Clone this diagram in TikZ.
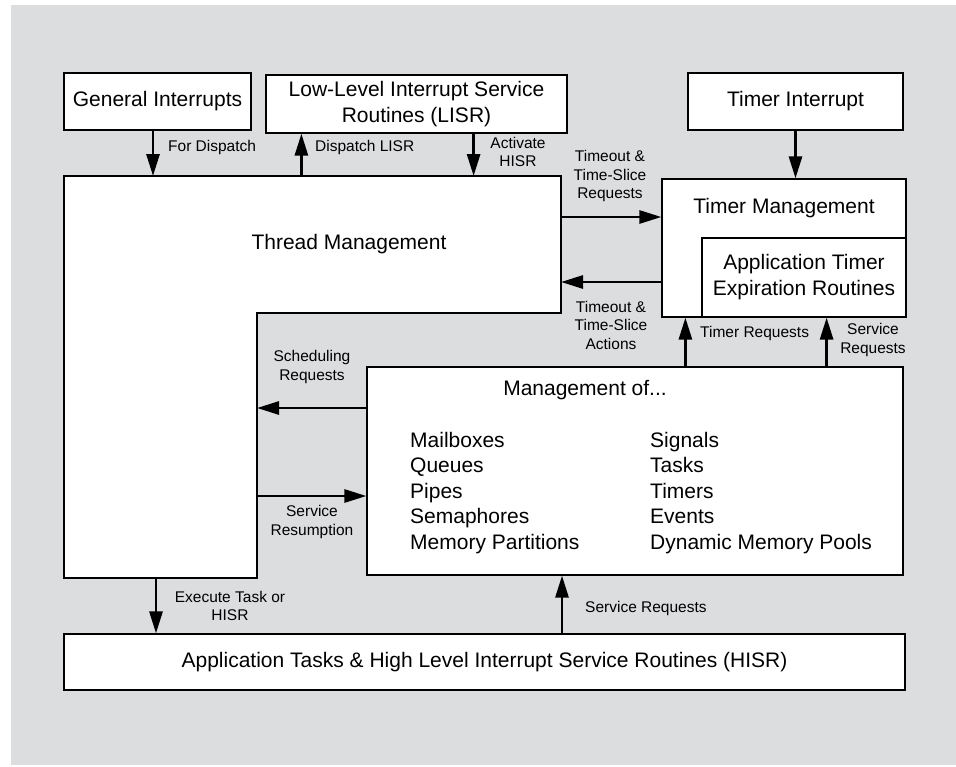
\documentclass[tikz,border=0pt]{standalone}
\usepackage{fontspec}
\setmainfont{Liberation Sans}
\usetikzlibrary{arrows.meta}

\definecolor{bggray}{RGB}{220,221,223}
\newcommand{\boxtxt}{\fontsize{21}{26}\selectfont}
\newcommand{\lbltxt}{\fontsize{15.5}{18.5}\selectfont}

\begin{document}
\begin{tikzpicture}[x=1pt, y=-1pt, >={Triangle[length=22pt,width=13pt]}]
    \tikzset{box/.style={draw, line width=1.2pt, fill=white, font=\boxtxt, align=center, inner sep=0pt},
             lbl/.style={font=\lbltxt, align=center, inner sep=0pt},
             flow/.style={->, line width=2.8pt}}

    \useasboundingbox (0,0) rectangle (956,766);
    \fill[bggray] (11,5) rectangle (956,765);

    % top row
    \node[box, minimum width=187pt, minimum height=57pt] (gi) at (157.5,101.5) {General Interrupts};
    \node[box, minimum width=301pt, minimum height=58pt] (lisr) at (416.5,104) {Low-Level Interrupt Service\\Routines (LISR)};
    \node[box, minimum width=215pt, minimum height=57pt] (ti) at (795.5,101.5) {Timer Interrupt};

    % thread management (L-shaped)
    \coordinate (thr-nw) at (64,176);
    \coordinate (thr-ne) at (561,176);
    \coordinate (thr-in) at (257,313);
    \coordinate (thr-sw) at (64,578);
    \draw[line width=1.2pt, fill=white] (thr-nw) -- (thr-ne) -- (thr-ne |- thr-in) -- (thr-in)
        -- (thr-in |- thr-sw) -- (thr-sw) -- cycle;
    \node[font=\boxtxt] (thr) at (349,244) {Thread Management};

    % timer management
    \node[box, minimum width=244pt, minimum height=138pt] (tm) at (784,248) {};
    \node[font=\boxtxt] (tmtext) at (784,208) {Timer Management};
    \node[box, minimum width=204pt, minimum height=79pt] (ate) at (804,277.5) {Application Timer\\Expiration Routines};

    % management of...
    \node[box, minimum width=536pt, minimum height=208pt] (mo) at (635,471) {};
    \node[font=\boxtxt] (motext) at (585,390) {Management of...};
    \foreach \obj [count=\i] in {Mailboxes, Queues, Pipes, Semaphores, Memory Partitions}
        \node[font=\boxtxt, anchor=base west, inner sep=0pt] (ml\i) at (410,{421.5+25.5*\i}) {\obj};
    \foreach \obj [count=\i] in {Signals, Tasks, Timers, Events, Dynamic Memory Pools}
        \node[font=\boxtxt, anchor=base west, inner sep=0pt] (mr\i) at (650,{421.5+25.5*\i}) {\obj};

    % application tasks
    \node[box, minimum width=841pt, minimum height=56pt] (app) at (484.5,662) {Application Tasks \& High Level Interrupt Service Routines (HISR)};

    % arrow positions
    \coordinate (fd) at ([xshift=-4.5pt]gi.south);
    \coordinate (dl) at ([xshift=36pt]lisr.south west);
    \coordinate (ah) at ([xshift=-94pt]lisr.south east);
    \coordinate (tsr) at ([yshift=31pt]tm.west);
    \coordinate (tsa) at ([yshift=-34pt]tm.west);
    \coordinate (treq) at ([xshift=24pt]tm.south west);
    \coordinate (sreq) at ([xshift=-80pt]tm.south east);
    \coordinate (sched) at ([yshift=63pt]mo.west);
    \coordinate (resum) at ([yshift=-25pt]mo.west);
    \coordinate (exec) at ([xshift=92pt]thr-sw);
    \coordinate (appreq) at ([xshift=77.5pt]app.north);

    \draw[flow] (fd) -- (fd |- thr-nw);
    \draw[flow] (dl |- thr-nw) -- (dl);
    \draw[flow] (ah) -- (ah |- thr-nw);
    \draw[flow] (ti.south) -- (ti.south |- tm.north);
    \draw[flow] (thr-ne |- tsr) -- (tsr);
    \draw[flow] (tsa) -- (thr-ne |- tsa);
    \draw[flow] (treq |- mo.north) -- (treq);
    \draw[flow] (sreq |- mo.north) -- (sreq);
    \draw[flow] (sched) -- (thr-in |- sched);
    \draw[flow] (thr-in |- resum) -- (resum);
    \draw[flow] (exec) -- (exec |- app.north);
    \draw[flow] (appreq) -- (appreq |- mo.south);

    % labels
    \node[lbl, anchor=west] (l-fd) at (168,147) {For Dispatch};
    \node[lbl, anchor=west] (l-dl) at (315,147) {Dispatch LISR};
    \node[lbl] (l-ah) at (518,152) {Activate\\HISR};
    \node[lbl] (l-tsr) at (610,176) {Timeout \&\\Time-Slice\\Requests};
    \node[lbl] (l-tsa) at (611,325) {Timeout \&\\Time-Slice\\Actions};
    \node[lbl, anchor=west] (l-treq) at (700,333) {Timer Requests};
    \node[lbl] (l-sreq) at (873,340) {Service\\Requests};
    \node[lbl] (l-sched) at (312,367) {Scheduling\\Requests};
    \node[lbl] (l-resum) at (312,522) {Service\\Resumption};
    \node[lbl] (l-exec) at (230,606) {Execute Task or\\HISR};
    \node[lbl, anchor=west] (l-appreq) at (585,608) {Service Requests};
\end{tikzpicture}
\end{document}
